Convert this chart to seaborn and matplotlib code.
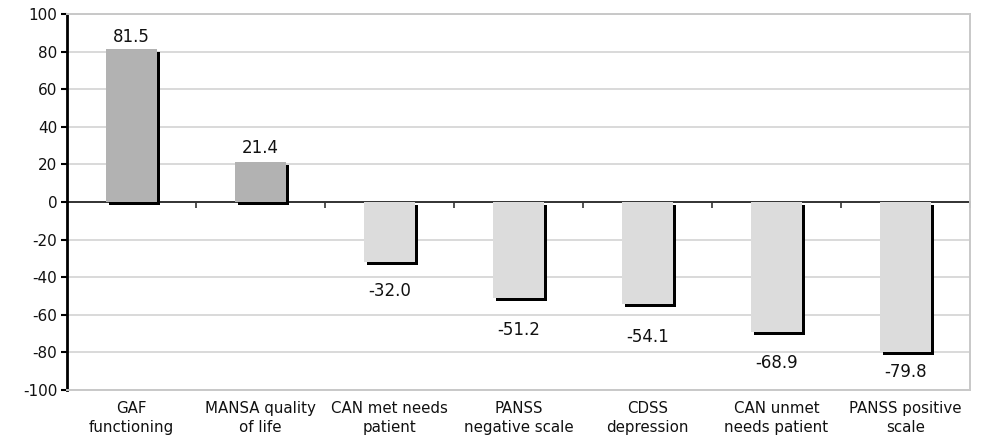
import matplotlib
matplotlib.use("Agg")
import matplotlib.pyplot as plt
import matplotlib.patheffects as pe
import seaborn as sns
import pandas as pd

categories = ["GAF\nfunctioning", "MANSA quality\nof life", "CAN met needs\npatient",
              "PANSS\nnegative scale", "CDSS\ndepression", "CAN unmet\nneeds patient",
              "PANSS positive\nscale"]
values = [81.5, 21.4, -32.0, -51.2, -54.1, -68.9, -79.8]
value_labels = ["81.5", "21.4", "-32.0", "-51.2", "-54.1", "-68.9", "-79.8"]
yticks = [-100, -80, -60, -40, -20, 0, 20, 40, 60, 80, 100]

df = pd.DataFrame({"cat": categories, "val": values})
colors = ["#b2b2b2" if v > 0 else "#dcdcdc" for v in values]

sns.set_style("white")
plt.rcParams["font.family"] = ["DejaVu Sans"]

fig = plt.figure(figsize=(9.81, 4.46), dpi=100)
ax = fig.add_axes([0.0683, 0.1256, 0.9205, 0.843])

for y in yticks:
    ax.axhline(y, color="#d9d9d9", lw=1.4, zorder=0)

sns.barplot(data=df, x="cat", y="val", hue="cat", palette=colors, width=0.4,
            saturation=1, legend=False, ax=ax, zorder=3, linewidth=0)

for p in ax.patches:
    p.set_path_effects([pe.SimplePatchShadow(offset=(2.2, -2.2), shadow_rgbFace="black", alpha=1),
                        pe.Normal()])

offsets = [6.5, 7.3, -15.3, -16.8, -17.7, -16.7, -10.6]
for i, (v, lab) in enumerate(zip(values, value_labels)):
    ax.text(i, v + offsets[i], lab, ha="center", va="center", fontsize=12, color="#111111", zorder=5)

ax.set_xlim(-0.5, 6.5)
ax.set_ylim(-100, 100)
ax.set_yticks(yticks)
ax.set_yticklabels([str(t) for t in yticks], fontsize=11)
ax.tick_params(axis="y", direction="out", length=4, width=1.5, color="black", pad=3, left=True,
               labelcolor="#111111")
ax.tick_params(axis="x", length=0, labelsize=10.8, pad=8, labelcolor="#111111")
for t in ax.get_xticklabels():
    t.set_linespacing(1.35)
ax.set_xlabel("")
ax.set_ylabel("")

ax.spines["left"].set_color("black")
ax.spines["left"].set_linewidth(2)
for s in ["right", "top", "bottom"]:
    ax.spines[s].set_color("#c8c8c8")
    ax.spines[s].set_linewidth(1.4)

sec = ax.secondary_xaxis(0.5)
sec.set_xticks([0.5, 1.5, 2.5, 3.5, 4.5, 5.5, 6.5])
sec.set_xticklabels([])
sec.tick_params(direction="in", length=4, width=1.2, color="#333333")
for s in sec.spines.values():
    s.set_color("#333333")
    s.set_linewidth(1.4)
    s.set_zorder(4)

fig.savefig("out.png", dpi=100, facecolor="white")
